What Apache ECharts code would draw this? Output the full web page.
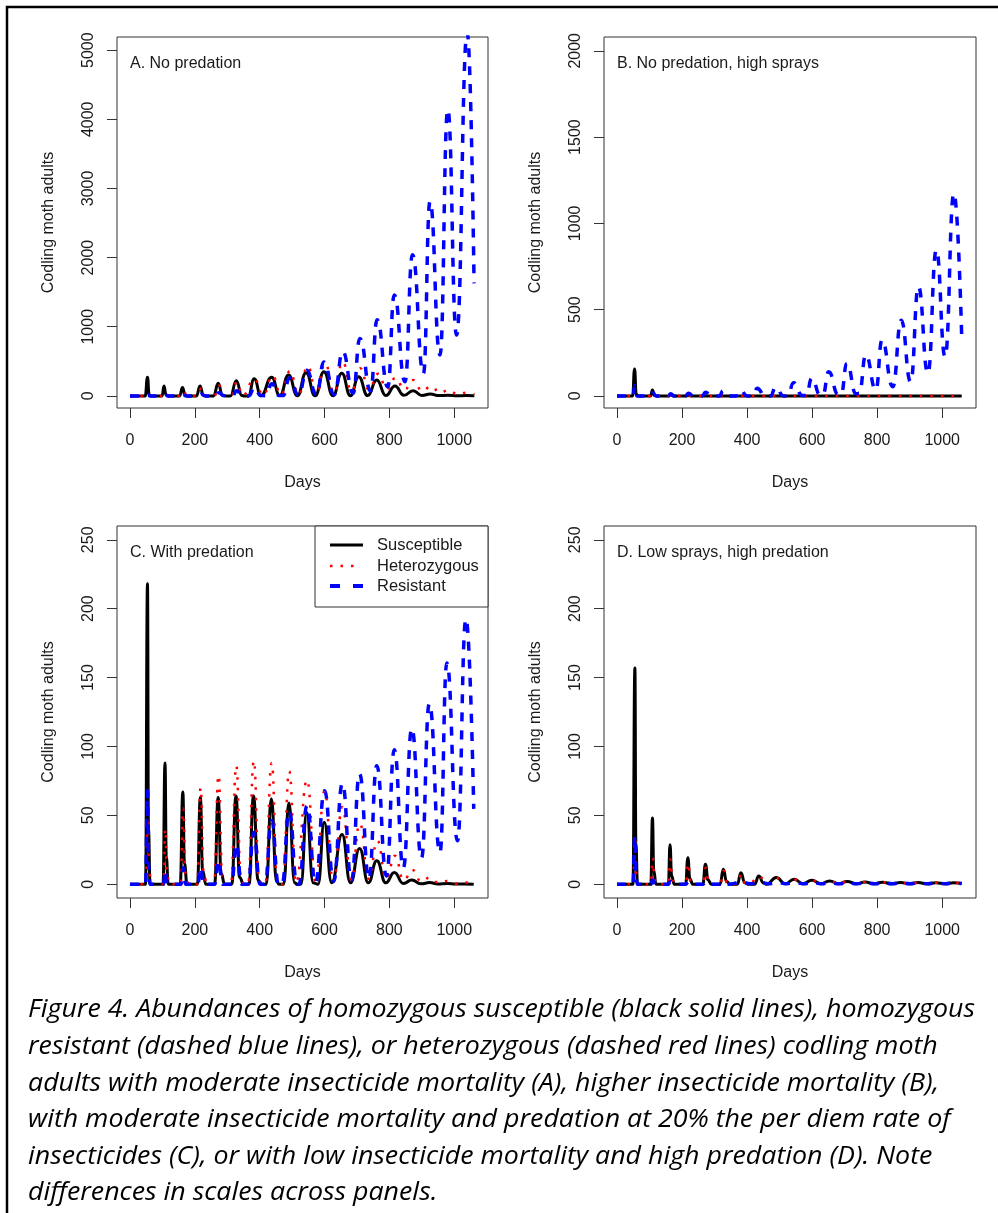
<!DOCTYPE html>
<html>
<head>
<meta charset="utf-8">
<script src="https://cdn.jsdelivr.net/npm/echarts@6.0.0/dist/echarts.min.js"></script>
<style>
  html, body { margin: 0; padding: 0; background: #fff; }
  #chart { width: 998px; height: 1213px; }
</style>
</head>
<body>
<div id="chart"></div>
<script>
// tick values and labels
const dayTicks = [0, 200, 400, 600, 800, 1000]
const ticksA = [0, 1000, 2000, 3000, 4000, 5000]
const ticksB = [0, 500, 1000, 1500, 2000]
const ticksCD = [0, 50, 100, 150, 200, 250]
const titles = ['A. No predation', 'B. No predation, high sprays', 'C. With predation', 'D. Low sprays, high predation']
const seriesNames = ['Susceptible', 'Heterozygous', 'Resistant']

// [day, adults]
const susceptibleA = [[0,0],[47,0],[54,269],[59,20],[64,0],[99,0],[105,143],[111,15],[118,0],[153,0],[162,122],[170,10],[178,0],
  [205,0],[216,143],[226,10],[236,0],[258,0],[272,182],[285,10],[297,0],[310,0],[328,220],[345,5],[353,0],[365,0],[383,249],[404,3],
  [437,269],[462,2],[489,302],[516,1],[543,335],[571,1],[598,350],[626,2],[653,327],[680,3],[705,278],[733,5],[761,230],[789,6],
  [817,143],[845,8],[873,75],[900,6],[926,27],[953,4],[980,8],[1008,2],[1035,4],[1062,1]]
const heterozygousA = [[0,0],[49,0],[56,30],[63,0],[102,0],[109,45],[118,0],[155,0],[165,70],[176,0],[208,0],[220,110],[233,0],
  [260,0],[275,150],[290,5],[312,0],[330,200],[347,5],[384,240],[411,10],[439,290],[466,15],[493,360],[520,20],[548,430],[575,30],
  [602,470],[629,45],[656,490],[683,70],[710,400],[737,90],[765,320],[792,100],[819,260],[846,90],[874,230],[901,70],[929,140],
  [956,45],[983,85],[1010,25],[1038,46],[1062,20]]
const resistantA = [[0,0],[50,0],[55,15],[62,0],[104,0],[110,8],[118,0],[158,0],[165,12],[174,0],[210,0],[220,25],[232,0],
  [262,0],[274,45],[290,2],[316,0],[329,75],[346,3],[366,0],[384,120],[403,5],[418,3],[438,175],[458,8],[472,5],[492,260],[520,10],
  [545,370],[575,15],[598,490],[630,20],[656,640],[688,40],[709,830],[742,70],[762,1100],[795,130],[815,1460],[848,205],
  [871,2040],[905,326],[925,2810],[956,591],[980,4140],[1007,880],[1040,5250],[1061,1627]]

const susceptibleB = [[0,0],[48,0],[54,156],[59,10],[65,0],[103,0],[109,35],[115,3],[122,0],[158,0],[164,8],[172,0],
  [214,0],[219,3],[228,0],[1060,0]]
const heterozygousB = [[0,0],[49,0],[55,40],[61,0],[104,0],[110,12],[118,0],[160,0],[165,4],[174,0],[1060,0]]
const resistantB = [[0,0],[49,0],[55,60],[61,0],[104,0],[110,18],[120,0],[158,0],[165,12],[176,0],[210,0],[220,15],[235,0],
  [262,0],[272,21],[290,0],[315,0],[326,30],[345,0],[366,0],[379,34],[400,0],[418,0],[431,44],[455,0],[472,0],[488,50],[512,0],
  [525,0],[543,77],[570,2],[582,2],[599,102],[625,5],[633,5],[651,140],[680,8],[689,8],[707,189],[735,12],[745,15],[765,237],
  [796,35],[815,324],[848,53],[874,439],[903,82],[927,632],[956,131],[982,845],[1009,227],[1036,1173],[1060,343]]

const susceptibleC = [[0,0],[48,0],[54,218],[57,40],[62,0],[102,0],[108,88],[112,20],[118,0],[155,0],[163,67],[168,15],[176,0],
  [208,0],[217,63],[224,10],[234,0],[261,0],[272,63],[281,8],[292,0],[314,0],[327,64],[338,5],[350,0],[367,0],[381,64],[395,3],
  [405,0],[420,0],[436,62],[452,2],[460,0],[474,0],[490,59],[508,1],[515,0],[527,0],[545,52],[565,1],[580,0],[599,45],[622,1],
  [654,36],[680,1],[708,26],[735,1],[761,17],[789,1],[815,8.5],[843,0.5],[869,3.1],[897,0.3],[924,1.2],[950,0.2],[978,0.5],
  [1005,0.1],[1033,0.2],[1060,0]]
const heterozygousC = [[0,0],[49,0],[55,55],[59,10],[65,0],[103,0],[109,40],[114,8],[121,0],[156,0],[164,55],[171,8],[180,0],
  [207,0],[218,70],[227,8],[238,0],[259,0],[273,79],[285,6],[296,0],[311,0],[328,86],[342,4],[352,0],[364,0],[382,89.6],[398,3],
  [407,0],[417,0],[437,88],[454,2],[463,0],[471,0],[491,82],[512,1],[546,75.6],[573,1],[600,67.8],[627,2],[655,56],[682,3],
  [709,44],[736,4],[763,31.5],[790,4],[817,20.6],[844,3],[871,10.4],[898,2],[925,4.8],[952,1],[980,2.4],[1007,0.5],[1034,1.2],
  [1060,0.5]]
const resistantC = [[0,0],[48,0],[54,68],[57,15],[62,0],[103,0],[109,10],[115,0],[157,0],[164,12],[172,0],[209,0],[218,12],
  [228,0],[261,0],[273,17],[286,0],[313,0],[328,29],[344,0],[364,0],[382,37.5],[401,0],[416,0],[437,46],[458,0],[469,0],
  [491,53],[515,0],[521,0],[546,57],[572,1],[600,67.8],[628,2],[655,73],[683,3],[708,80],[737,4],[761,86],[791,6],[815,97.6],
  [843,12],[869,113],[899,19],[923,131],[956,23],[977,160.6],[1010,31.5],[1036,192.6],[1060,54.7]]

const susceptibleD = [[0,0],[49,0],[55,157],[58,30],[63,0],[104,0],[109,48],[113,10],[120,0],[158,0],[163,28.6],[168,6],[176,0],
  [211,0],[218,19.3],[224,4],[233,0],[264,0],[272,14.5],[280,3],[290,0],[317,0],[327,10.9],[337,2],[347,0],[370,0],[381,8.4],
  [393,1],[404,0],[423,0],[436,6],[450,1],[460,0],[490,4.8],[517,0.3],[545,3.6],[572,0.3],[599,2.9],[627,0.3],[654,2.4],[681,0.3],
  [708,2],[736,0.3],[763,1.7],[790,0.3],[817,1.5],[845,0.3],[872,1.3],[899,0.3],[926,1.2],[954,0.3],[981,1.1],[1008,0.3],
  [1035,1],[1060,0.5]]
const heterozygousD = [[0,0],[50,0],[55,33],[59,5],[64,0],[104,0],[110,19],[115,3],[121,0],[158,0],[164,18],[170,3],[178,0],
  [211,0],[219,15],[226,2],[235,0],[264,0],[273,12],[282,2],[291,0],[317,0],[328,9.7],[338,1],[348,0],[370,0],[382,7],[394,1],
  [404,0],[437,5.5],[463,0.3],[491,4.5],[518,0.3],[546,3.4],[573,0.3],[600,2.8],[627,0.3],[655,2.3],[682,0.3],[709,2],[736,0.3],
  [764,1.7],[791,0.3],[818,1.5],[845,0.3],[873,1.3],[900,0.3],[927,1.2],[954,0.3],[982,1.1],[1008,0.3],[1036,1],[1060,0.5]]
const resistantD = [[0,0],[49,0],[55,35],[58,5],[63,0],[104,0],[110,3],[118,0],[158,0],[165,2],[175,0],[211,0],[220,2],[232,0],
  [264,0],[274,2],[288,0],[317,0],[329,2],[344,0],[383,1.5],[410,0.3],[438,1.5],[465,0.3],[492,1.3],[520,0.3],[547,1.2],
  [574,0.3],[601,1.2],[628,0.3],[656,1.1],[683,0.3],[710,1.1],[737,0.3],[765,1],[792,0.3],[819,1],[846,0.3],[874,1],[901,0.3],
  [928,1],[955,0.3],[983,1],[1010,0.3],[1037,1],[1060,0.5]]

const captionLines = [
  'Figure 4. Abundances of homozygous susceptible (black solid lines), homozygous',
  'resistant (dashed blue lines), or heterozygous (dashed red lines) codling moth',
  'adults with moderate insecticide mortality (A), higher insecticide mortality (B),',
  'with moderate insecticide mortality and predation at 20% the per diem rate of',
  'insecticides (C), or with low insecticide mortality and high predation (D). Note',
  'differences in scales across panels.',
]

const FONT = '"Liberation Sans", Arial, sans-serif'
const INK = '#1a1a1a'

const panels = [
  { left: 117, top: 37, width: 371, height: 371, min: -175, max: 5190, ticks: ticksA,
    data: [susceptibleA, heterozygousA, resistantA] },
  { left: 604, top: 37, width: 372, height: 371, min: -70, max: 2080, ticks: ticksB,
    data: [susceptibleB, heterozygousB, resistantB] },
  { left: 117, top: 526, width: 371, height: 372, min: -10, max: 260, ticks: ticksCD,
    data: [susceptibleC, heterozygousC, resistantC] },
  { left: 604, top: 526, width: 372, height: 372, min: -10, max: 260, ticks: ticksCD,
    data: [susceptibleD, heterozygousD, resistantD] },
]

const lineStyles = [
  { color: '#000000', width: 3 },
  { color: '#ff0000', width: 2.5, type: [2.5, 8] },
  { color: '#0000ff', width: 3.5, type: [9, 9] },
]

const chart = echarts.init(document.getElementById('chart'), null, { renderer: 'canvas' })

// caption is squeezed horizontally to the width of the original lines
const ctx = document.createElement('canvas').getContext('2d')
const captionFont = 'italic 26px "Open Sans", sans-serif'
ctx.font = captionFont
const captionScale = 947 / ctx.measureText(captionLines[0]).width

const graphic = [
  { type: 'rect', shape: { x: 7, y: 7, width: 1010, height: 1230 },
    style: { fill: 'none', stroke: '#000', lineWidth: 2.5 }, silent: true },
  ...captionLines.map((t, i) => ({
    type: 'text', x: 28, y: 1010 + i * 36.6, scaleX: captionScale,
    style: { text: t, font: captionFont, fill: '#000', verticalAlign: 'middle' },
  })),
  // legend in panel C
  { type: 'rect', shape: { x: 315, y: 526, width: 173, height: 81 },
    style: { fill: '#fff', stroke: '#333', lineWidth: 1 }, z: 10 },
  { type: 'line', shape: { x1: 330, y1: 545, x2: 363, y2: 545 }, style: { stroke: '#000', lineWidth: 3 }, z: 11 },
  { type: 'line', shape: { x1: 330, y1: 566, x2: 356, y2: 566 }, style: { stroke: '#ff0000', lineWidth: 2.5, lineDash: [2.5, 8] }, z: 11 },
  { type: 'line', shape: { x1: 330, y1: 586, x2: 363, y2: 586 }, style: { stroke: '#0000ff', lineWidth: 4, lineDash: [10, 13] }, z: 11 },
  ...seriesNames.map((n, i) => ({
    type: 'text', x: 377, y: [545, 566, 586][i], z: 11,
    style: { text: n, font: '16.5px ' + FONT, fill: INK, verticalAlign: 'middle' },
  })),
]

const plain = (v) => String(v)

const option = {
  animation: false,
  backgroundColor: '#fff',
  title: panels.map((p, i) => ({
    text: titles[i],
    left: p.left + 13,
    top: p.top + 19,
    padding: 0,
    textStyle: { fontSize: 16, fontWeight: 'normal', color: INK, fontFamily: FONT },
  })),
  grid: panels.map((p) => ({
    left: p.left, top: p.top, width: p.width, height: p.height,
    show: true, borderColor: '#333', borderWidth: 1, backgroundColor: 'transparent',
  })),
  xAxis: panels.map((p, i) => ({
    gridIndex: i, type: 'value', min: -40, max: 1104,
    axisLine: { show: false, onZero: false },
    axisTick: { show: true, length: 10, customValues: dayTicks, lineStyle: { color: '#333' } },
    axisLabel: { customValues: dayTicks, formatter: plain, margin: 25, fontSize: 16, color: INK, fontFamily: FONT },
    splitLine: { show: false },
    name: 'Days', nameLocation: 'middle', nameGap: 67,
    nameTextStyle: { fontSize: 16, color: INK, fontFamily: FONT },
  })),
  yAxis: panels.map((p, i) => ({
    gridIndex: i, type: 'value', min: p.min, max: p.max,
    axisLine: { show: false, onZero: false },
    axisTick: { show: true, length: 10, customValues: p.ticks, lineStyle: { color: '#333' } },
    axisLabel: { customValues: p.ticks, formatter: plain, rotate: 90, margin: 20, fontSize: 16, color: INK, fontFamily: FONT },
    splitLine: { show: false },
    name: 'Codling moth adults', nameLocation: 'middle', nameGap: 60,
    nameTextStyle: { fontSize: 16, color: INK, fontFamily: FONT },
  })),
  series: panels.flatMap((p, i) => p.data.map((d, k) => ({
    name: seriesNames[k],
    type: 'line',
    xAxisIndex: i,
    yAxisIndex: i,
    data: d,
    symbol: 'none',
    smooth: 0.5,
    smoothMonotone: 'x',
    clip: true,
    lineStyle: lineStyles[k],
    z: 2 + k,
  }))),
  graphic,
}

chart.setOption(option)
</script>
</body>
</html>
